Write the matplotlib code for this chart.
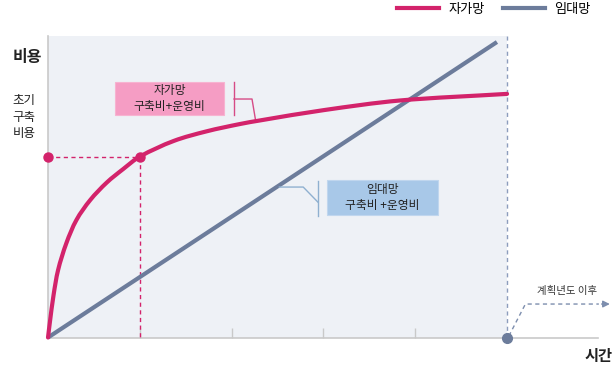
import matplotlib
matplotlib.use("Agg")
import numpy as np
import matplotlib.pyplot as plt
from matplotlib.patches import Rectangle, PathPatch
from matplotlib.path import Path
from matplotlib.lines import Line2D

plt.rcParams['font.family'] = ['Noto Sans CJK KR', 'DejaVu Sans']

# Cumulative cost over time (relative units)
t_own = [0, 0.02, 0.06, 0.11, 0.2, 0.31, 0.46, 0.64, 0.82, 1.0, 1.37, 1.73, 2.09, 2.31, 3.0, 3.83, 5.0]
cost_own = [0, 5.0, 14.0, 22.4, 31.3, 39.0, 45.6, 51.4, 55.9, 60.0, 65.2, 68.4, 70.8, 72.0, 75.4, 78.6, 80.8]
t_lease = [0, 4.89]
cost_lease = [0, 98.0]

series_names = ['자가망', '임대망']
initial_cost = 60.0
initial_time = 1.0
plan_end = 5.0
ticks = [1, 2, 3, 4]

PINK = '#d3236b'
SLATE = '#6c7c9b'
GRID = '#c9c9c9'


def smooth_path(ax, xs, ys):
    """Smooth Bezier curve through the points, built in display space."""
    pts = ax.transData.transform(np.column_stack([xs, ys]))
    n = len(pts)
    verts = [pts[0]]
    codes = [Path.MOVETO]
    tangents = []
    for i in range(n):
        a = pts[max(i - 1, 0)]
        b = pts[min(i + 1, n - 1)]
        d = b - a
        tangents.append(d / np.hypot(*d))
    for i in range(n - 1):
        p1, p2 = pts[i], pts[i + 1]
        h = np.hypot(*(p2 - p1)) / 3
        verts += [p1 + tangents[i] * h, p2 - tangents[i + 1] * h, p2]
        codes += [Path.CURVE4] * 3
    verts = ax.transData.inverted().transform(np.array(verts))
    return Path(verts, codes)


fig = plt.figure(figsize=(6.15, 3.65), dpi=100)
ax = fig.add_axes([0, 0, 1, 1])
ax.set_xlim(-0.523, 6.176)
ax.set_ylim(-9.12, 111.94)
ax.axis('off')

# planning-period background
ax.add_patch(Rectangle((0, 0), plan_end, 100, facecolor='#eef1f6', edgecolor='none', zorder=0))

# axes lines and ticks
ax.plot([0, 0], [0, 100], color=GRID, lw=1.2, zorder=1)
ax.plot([0, 5.99], [0, 0], color=GRID, lw=1.2, zorder=1)
ax.vlines(ticks, 0, 3.3, color=GRID, lw=1, zorder=1)

# end of planning period
ax.plot([plan_end, plan_end], [0, 100], color='#8d9dbd', lw=1, ls=(0, (3, 2.5)), zorder=2)

# initial build cost guides
ax.plot([0, initial_time], [initial_cost, initial_cost], color=PINK, lw=1, ls=(0, (3, 2.5)), zorder=2)
ax.plot([initial_time, initial_time], [initial_cost, 0], color=PINK, lw=1, ls=(0, (3, 2.5)), zorder=2)

# series
ax.plot(t_lease, cost_lease, color=SLATE, lw=3, solid_capstyle='butt', label=series_names[1], zorder=3)
ax.add_patch(PathPatch(smooth_path(ax, t_own, cost_own), fill=False, edgecolor=PINK, lw=3,
                       capstyle='round', joinstyle='round', zorder=4))

ax.plot([0, initial_time], [initial_cost, initial_cost], 'o', color=PINK, ms=6.5, zorder=5)
ax.plot([plan_end], [0], 'o', color=SLATE, ms=7, zorder=5)

# beyond the planning period
ax.plot([5.02, 5.2, 6.0], [0.5, 11.1, 11.1], color='#7d8eae', lw=1, ls=(0, (3, 2.5)), zorder=2)
ax.annotate('', xy=(6.15, 11.1), xytext=(6.0, 11.1),
            arrowprops=dict(arrowstyle='-|>', color='#7d8eae', lw=1, mutation_scale=10))
ax.text(5.65, 15.3, '계획년도 이후', ha='center', va='center', fontsize=7.5, color='#333333')

# callout: own network
ax.add_patch(Rectangle((0.730, 73.8), 1.187, 10.9, facecolor='#f59dc4', edgecolor='#f7b3d1', lw=0.8, zorder=3))
ax.text(1.323, 79.3, '자가망\n구축비+운영비', ha='center', va='center', fontsize=8.5,
        linespacing=1.25, color='#222222', zorder=4)
ax.plot([2.026, 2.026], [73.8, 84.7], color='#d64b86', lw=1, zorder=3)
ax.plot([2.026, 2.222, 2.26], [79.1, 79.1, 72.2], color='#d64b86', lw=1, zorder=3)

# callout: leased network
ax.add_patch(Rectangle((3.04, 40.6), 1.21, 11.6, facecolor='#a8c8e8', edgecolor='#c0d6ee', lw=0.8, zorder=3))
ax.text(3.645, 46.4, '임대망\n구축비 +운영비', ha='center', va='center', fontsize=8.5,
        linespacing=1.25, color='#222222', zorder=4)
ax.plot([2.94, 2.94], [40.3, 51.9], color='#8fb0d0', lw=1, zorder=3)
ax.plot([2.94, 2.78, 2.52], [44.9, 49.9, 49.9], color='#8fb0d0', lw=1, zorder=3)

# axis titles
ax.text(-0.22, 93.0, '비용', ha='center', va='center', fontsize=11.5, fontweight='bold', color='#222222')
ax.text(-0.26, 73.1, '초기\n구축\n비용', ha='center', va='center', fontsize=9,
        linespacing=1.35, color='#222222')
ax.text(6.15, -6.1, '시간', ha='right', va='center', fontsize=11, fontweight='bold', color='#222222')

# legend
handles = [Line2D([], [], color=PINK, lw=3), Line2D([], [], color=SLATE, lw=3)]
fig.legend(handles, series_names, loc='upper right', bbox_to_anchor=(0.98, 1.025), ncol=2,
           frameon=False, fontsize=9.5, handlelength=3.2, handletextpad=0.7, columnspacing=1.4)

fig.savefig('out.png', dpi=100)
